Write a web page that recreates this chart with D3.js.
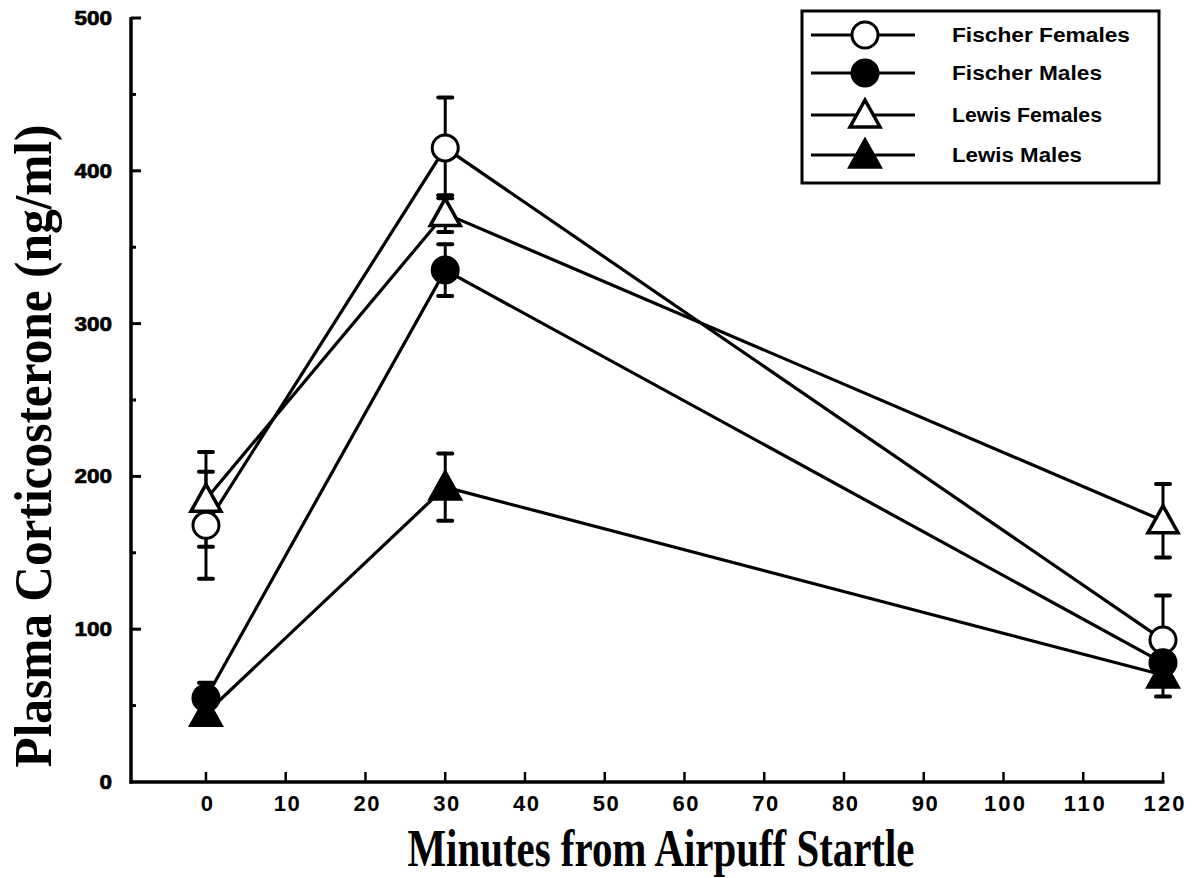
<!DOCTYPE html>
<html>
<head>
<meta charset="utf-8">
<script src="https://cdn.jsdelivr.net/npm/d3@7"></script>
<style>
  html, body { margin: 0; padding: 0; background: #fff; }
  svg { display: block; }
</style>
</head>
<body>
<svg id="chart" width="1195" height="878"></svg>
<script>
// Time points (minutes after the airpuff startle)
const minutes = [0, 30, 120];

// Series names in legend order
const seriesNames = ["Fischer Females", "Fischer Males", "Lewis Females", "Lewis Males"];

// Mean plasma corticosterone (ng/ml)
const fischerFemales = [168, 415, 93];
const fischerMales   = [55, 335, 78];
const lewisFemales   = [185, 372, 171];
const lewisMales     = [45, 193, 70];

// Standard errors (ng/ml)
const fischerFemalesErr = [35, 33, 29];
const fischerMalesErr   = [10, 17, 12];
const lewisFemalesErr   = [31, 12, 24];
const lewisMalesErr     = [6, 22, 14];

// Axis ticks
const yTicks = [0, 100, 200, 300, 400, 500];
const yMinorTicks = [50, 150, 250, 350, 450];
const xTicks = [0, 10, 20, 30, 40, 50, 60, 70, 80, 90, 100, 110, 120];

const series = [
  { name: seriesNames[0], values: fischerFemales, err: fischerFemalesErr, shape: "circle",   filled: false },
  { name: seriesNames[1], values: fischerMales,   err: fischerMalesErr,   shape: "circle",   filled: true  },
  { name: seriesNames[2], values: lewisFemales,   err: lewisFemalesErr,   shape: "triangle", filled: false },
  { name: seriesNames[3], values: lewisMales,     err: lewisMalesErr,     shape: "triangle", filled: true  }
];

const svg = d3.select("#chart");

const x = d3.scaleLinear().domain([-9.4, 120]).range([131, 1163]);
const y = d3.scaleLinear().domain([0, 500]).range([782, 18]);

const ink = "#000";
const sans = "Liberation Sans, Arial, sans-serif";
const serif = "Liberation Serif, Times New Roman, serif";

// ---- Axes ----
const axes = svg.append("g");

// y axis line
axes.append("line")
  .attr("x1", x(-9.4)).attr("x2", x(-9.4))
  .attr("y1", y(500) - 1).attr("y2", y(0) + 1.5)
  .attr("stroke", ink).attr("stroke-width", 3.5);

// x axis line
axes.append("line")
  .attr("x1", x(-9.4) - 1.5).attr("x2", x(120) + 1.5)
  .attr("y1", y(0)).attr("y2", y(0))
  .attr("stroke", ink).attr("stroke-width", 3.5);

// y ticks (inward)
axes.selectAll(".ytick").data(yTicks.filter(d => d > 0)).enter().append("line")
  .attr("x1", x(-9.4)).attr("x2", x(-9.4) + 10)
  .attr("y1", d => y(d)).attr("y2", d => y(d))
  .attr("stroke", ink).attr("stroke-width", 3);

axes.selectAll(".yminor").data(yMinorTicks).enter().append("line")
  .attr("x1", x(-9.4)).attr("x2", x(-9.4) + 5)
  .attr("y1", d => y(d)).attr("y2", d => y(d))
  .attr("stroke", ink).attr("stroke-width", 3);

axes.selectAll(".ylab").data(yTicks).enter().append("text")
  .attr("x", 112).attr("y", d => y(d) + 7)
  .attr("text-anchor", "end")
  .attr("font-family", sans)
  .attr("font-weight", "bold")
  .attr("font-size", 20)
  .attr("textLength", d => String(d).length * 12.5)
  .attr("lengthAdjust", "spacingAndGlyphs")
  .attr("stroke", ink).attr("stroke-width", 0.7)
  .text(d => d);

// x ticks (inward, upward)
axes.selectAll(".xtick").data(xTicks).enter().append("line")
  .attr("x1", d => x(d)).attr("x2", d => x(d))
  .attr("y1", y(0)).attr("y2", y(0) - 10)
  .attr("stroke", ink).attr("stroke-width", 2.5);

axes.selectAll(".xlab").data(xTicks).enter().append("text")
  .attr("x", d => x(d) + 1).attr("y", 811)
  .attr("text-anchor", "middle")
  .attr("font-family", sans)
  .attr("font-weight", "bold")
  .attr("font-size", 22)
  .attr("textLength", d => String(d).length * 15 - 4)
  .attr("lengthAdjust", "spacing")
  .text(d => d);

// Axis titles
svg.append("text")
  .attr("x", 661).attr("y", 866)
  .attr("text-anchor", "middle")
  .attr("font-family", serif)
  .attr("font-weight", "bold")
  .attr("font-size", 52)
  .attr("textLength", 507)
  .attr("lengthAdjust", "spacingAndGlyphs")
  .text("Minutes from Airpuff Startle");

svg.append("text")
  .attr("transform", "translate(51,446) rotate(-90)")
  .attr("text-anchor", "middle")
  .attr("font-family", serif)
  .attr("font-weight", "bold")
  .attr("font-size", 52)
  .attr("textLength", 643)
  .attr("lengthAdjust", "spacingAndGlyphs")
  .text("Plasma Corticosterone (ng/ml)");

// ---- Marker drawing ----
function drawMarker(g, shape, filled, cx, cy) {
  if (shape === "circle") {
    g.append("circle")
      .attr("cx", cx).attr("cy", cy).attr("r", 13)
      .attr("fill", filled ? ink : "#fff")
      .attr("stroke", ink).attr("stroke-width", 3);
  } else {
    const s = 15;
    const pts = [[cx, cy - s], [cx + s, cy + s * 0.8], [cx - s, cy + s * 0.8]];
    g.append("path")
      .attr("d", d3.line()(pts) + "Z")
      .attr("fill", filled ? ink : "#fff")
      .attr("stroke", ink).attr("stroke-width", 3.5)
      .attr("stroke-linejoin", "miter");
  }
}

const lineGen = d3.line().x(d => x(d[0])).y(d => y(d[1]));

// Connecting lines
const linesG = svg.append("g");
series.forEach(s => {
  linesG.append("path")
    .attr("d", lineGen(minutes.map((m, i) => [m, s.values[i]])))
    .attr("fill", "none").attr("stroke", ink).attr("stroke-width", 3.2);
});

// Error bars
const errG = svg.append("g");
series.forEach(s => {
  minutes.forEach((m, i) => {
    const lo = s.values[i] - s.err[i];
    const hi = s.values[i] + s.err[i];
    errG.append("line")
      .attr("x1", x(m)).attr("x2", x(m))
      .attr("y1", y(lo)).attr("y2", y(hi))
      .attr("stroke", ink).attr("stroke-width", 3);
    [lo, hi].forEach(v => {
      errG.append("line")
        .attr("x1", x(m) - 7).attr("x2", x(m) + 7)
        .attr("y1", y(v)).attr("y2", y(v))
        .attr("stroke", ink).attr("stroke-width", 4)
        .attr("stroke-linecap", "round");
    });
  });
});

// Markers (drawn last so they sit on top)
const markG = svg.append("g");
series.forEach(s => {
  minutes.forEach((m, i) => drawMarker(markG, s.shape, s.filled, x(m), y(s.values[i])));
});

// ---- Legend ----
const legend = svg.append("g");
legend.append("rect")
  .attr("x", 802).attr("y", 11).attr("width", 357).attr("height", 172)
  .attr("fill", "#fff").attr("stroke", ink).attr("stroke-width", 3);

const legendRows = [35, 73, 115, 155];
series.forEach((s, i) => {
  const ly = legendRows[i];
  legend.append("line")
    .attr("x1", 811).attr("x2", 915).attr("y1", ly).attr("y2", ly)
    .attr("stroke", ink).attr("stroke-width", 3.2);
  drawMarker(legend, s.shape, s.filled, 865, ly);
  legend.append("text")
    .attr("x", 952).attr("y", ly + 7)
    .attr("font-family", sans)
    .attr("font-size", 20)
    .attr("font-weight", "bold")
    .attr("textLength", s.name.length > 13 ? 178 : s.name.length > 11 ? 150 : 130)
    .attr("lengthAdjust", "spacingAndGlyphs")
    .text(s.name);
});
</script>
</body>
</html>
